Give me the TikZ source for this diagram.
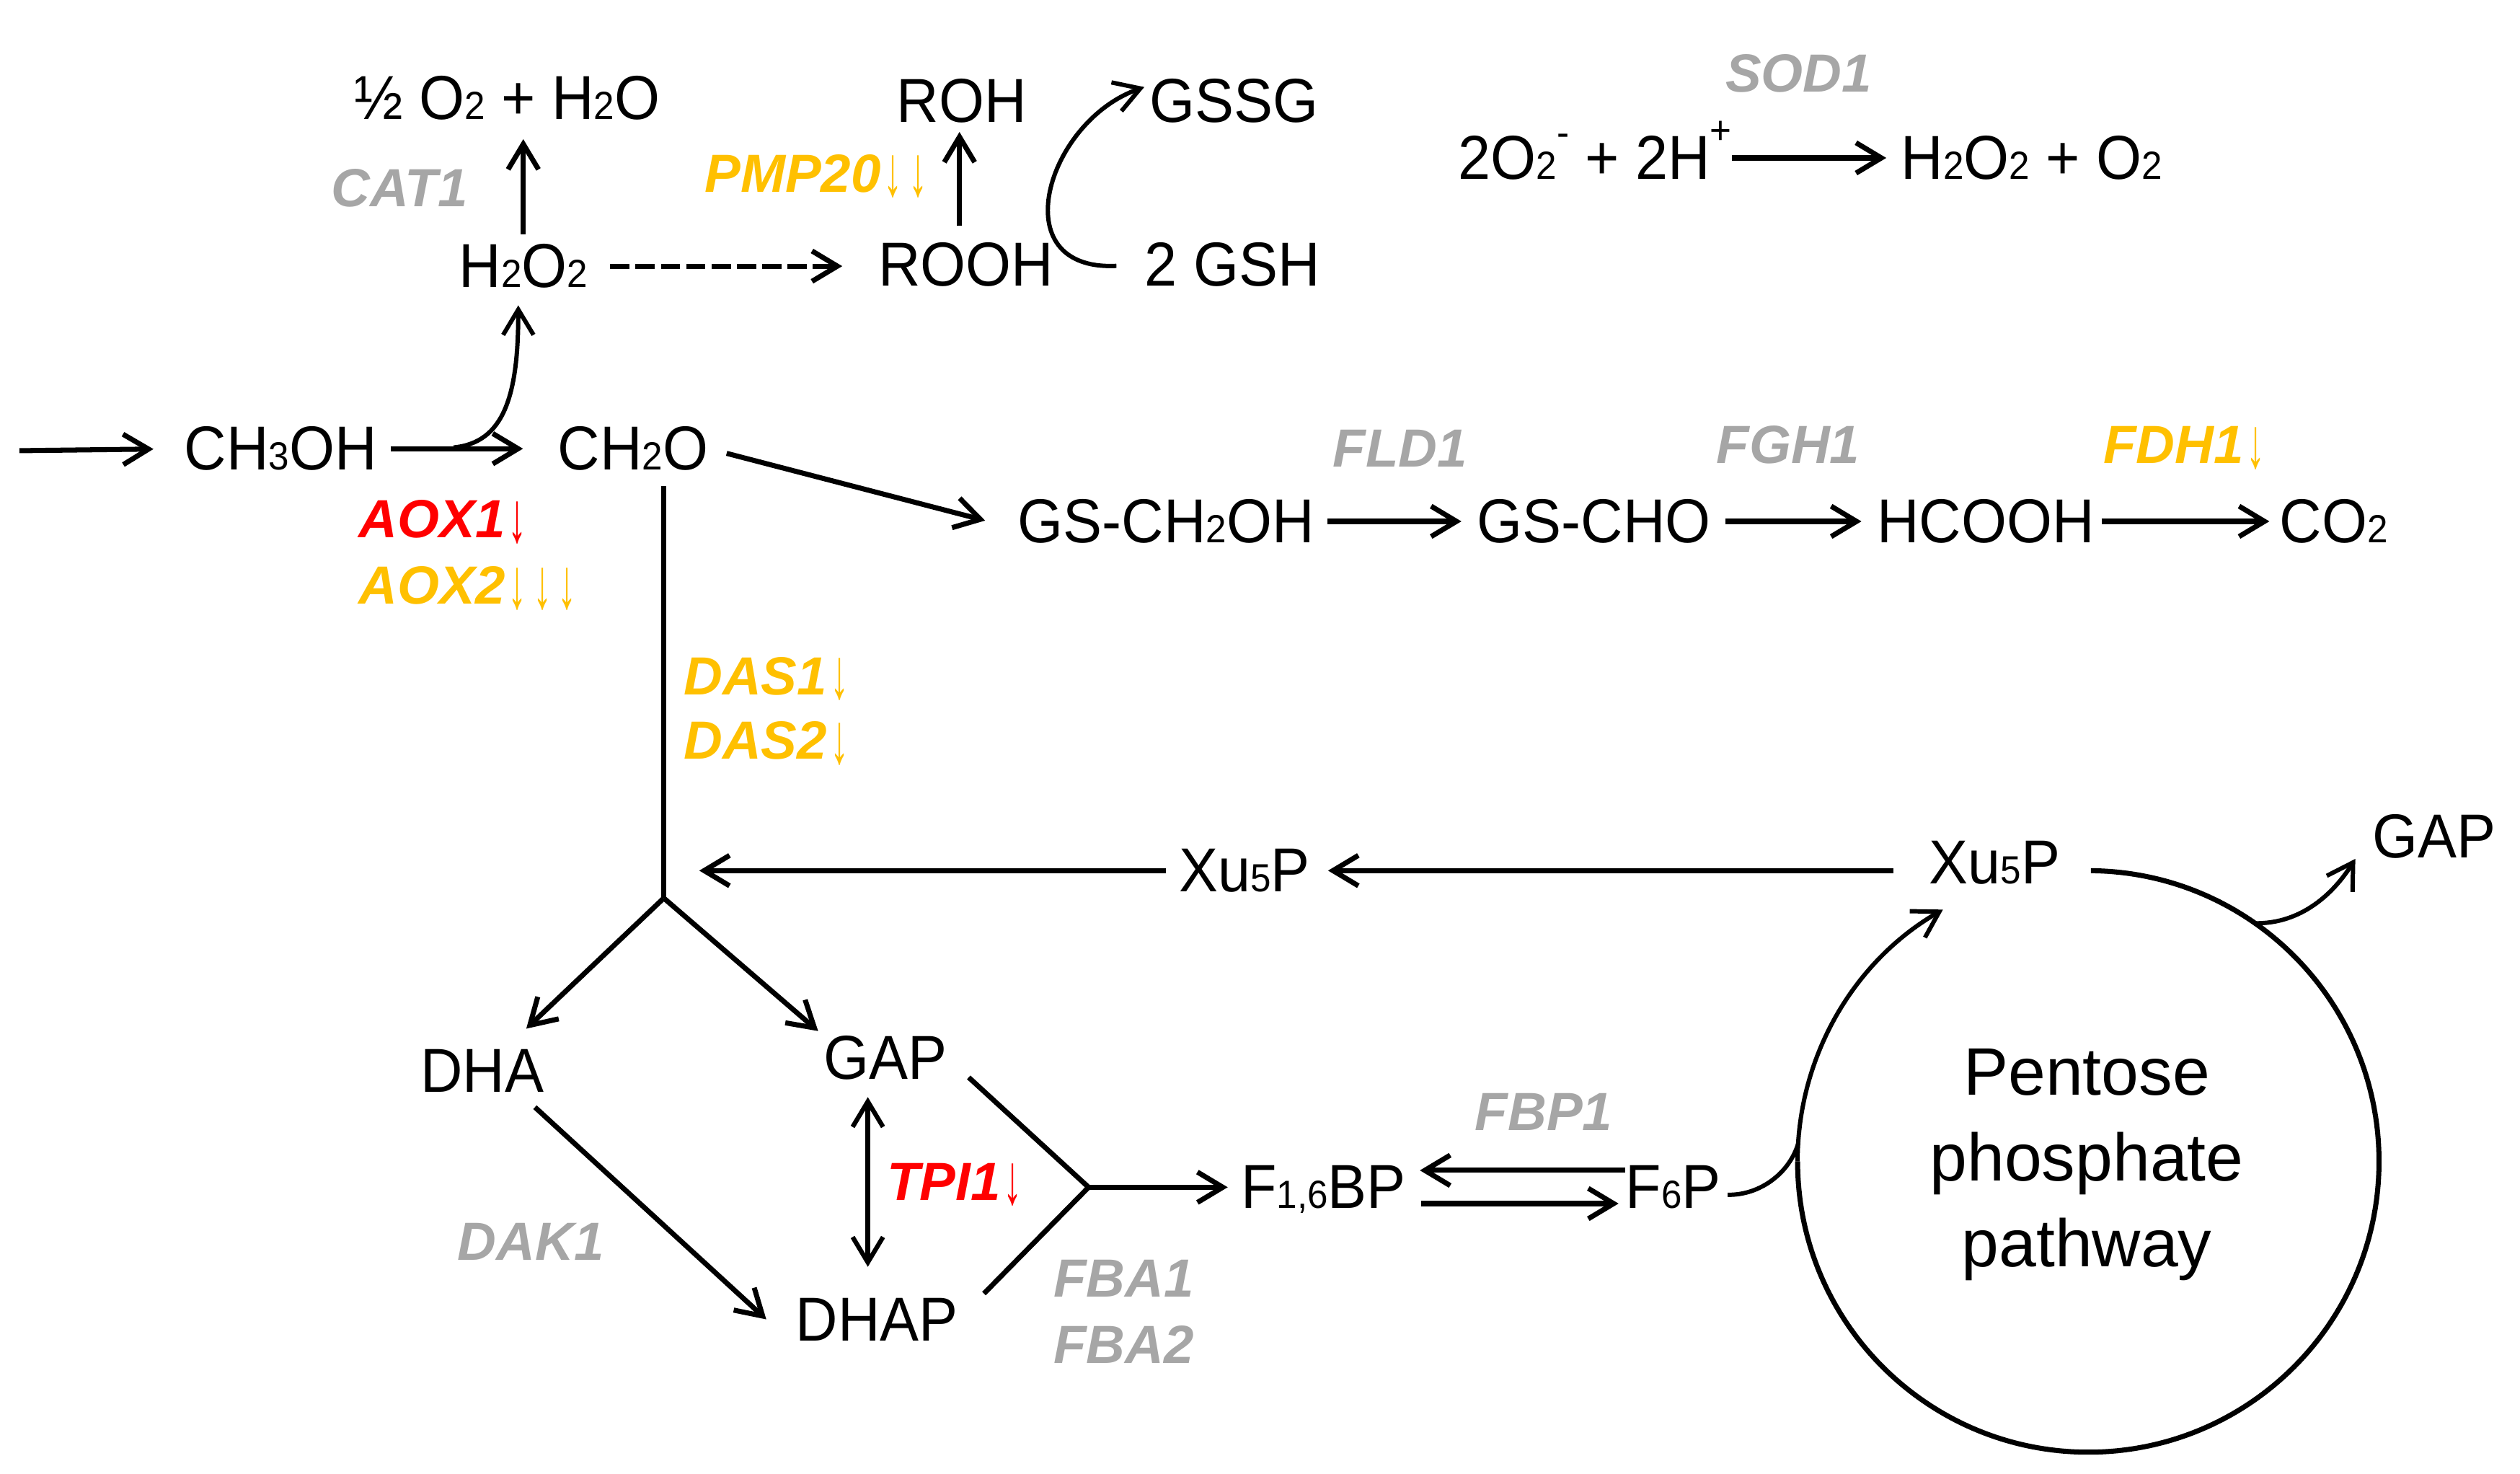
\documentclass[tikz,border=0pt]{standalone}
\usepackage{fontspec}
\usepackage{graphicx}
\setmainfont{Liberation Sans}
\newfontfamily\molfont{Liberation Sans}[FakeStretch=0.94]
\usetikzlibrary{arrows.meta,calc}
\definecolor{gen}{HTML}{A6A6A6}
\definecolor{gold}{HTML}{FFC000}
\definecolor{rd}{HTML}{FF0000}
\newcommand\sbs[1]{{\fontsize{15.5}{15.5}\selectfont #1}}
\newcommand\sps[2]{\raisebox{#1}{\fontsize{15.5}{15.5}\selectfont #2}}
\newcommand\dn{\makebox[0.46em]{\raisebox{-1.5pt}[\height][0pt]{\scalebox{0.7}[1.33]{\normalfont ↓}}}}
\begin{document}
\begin{tikzpicture}[x=0.0224cm,y=0.0224cm,
  >={Straight Barb[length=10pt,width=12pt]},
  mol/.style={inner sep=0pt, anchor=base, font=\molfont\fontsize{24.5}{29}\selectfont},
  gene/.style={inner sep=0pt, anchor=base west, font=\fontsize{21.2}{25}\selectfont\bfseries\itshape},
  ln/.style={line width=2pt},
  arr/.style={line width=2pt, ->},
  arrthin/.style={line width=1.7pt, ->},
  dblarr/.style={line width=1.8pt, <->},
  dasharr/.style={line width=2pt, ->, dash pattern=on 7.6pt off 2.4pt}]
\useasboundingbox (0,0) rectangle (1560.3,-912.5);

% molecules
\node[mol] (half) at (314,-74) {½ O\sbs{2} + H\sbs{2}O};
\node[mol] (h2o2) at (324,-178) {H\sbs{2}O\sbs{2}};
\node[mol] (roh) at (595.5,-75.5) {ROH};
\node[mol] (rooh) at (598,-177) {ROOH};
\node[mol] (gssg) at (764,-75.5) {GSSG};
\node[mol] (gsh) at (763,-177) {2 GSH};
\node[mol] (sodL) at (987.6,-111) {2O\sbs{2}\sps{13pt}{-} + 2H\sps{14pt}{+}};
\node[mol] (sodR) at (1258,-111) {H\sbs{2}O\sbs{2} + O\sbs{2}};
\node[mol] (ch3oh) at (173.7,-291) {CH\sbs{3}OH};
\node[mol] (ch2o) at (392,-291) {CH\sbs{2}O};
\node[mol] (gsch2oh) at (722,-336) {GS-CH\sbs{2}OH};
\node[mol] (gscho) at (987,-336) {GS-CHO};
\node[mol] (hcooh) at (1229.5,-336) {HCOOH};
\node[mol] (co2) at (1445,-336) {CO\sbs{2}};
\node[mol] (xuL) at (770.5,-552) {Xu\sbs{5}P};
\node[mol] (xuR) at (1235,-547) {Xu\sbs{5}P};
\node[mol] (gapR) at (1507,-531) {GAP};
\node[mol] (dha) at (298.5,-676) {DHA};
\node[mol] (gap) at (548,-668) {GAP};
\node[mol] (dhap) at (543,-830) {DHAP};
\node[mol] (f16bp) at (819.5,-748) {F\sbs{1,6}BP};
\node[mol] (f6p) at (1036,-748) {F\sbs{6}P};
\node[inner sep=0pt, align=center, font=\fontsize{26.5}{33.8}\selectfont] (ppp) at (1292,-721) {Pentose\\phosphate\\pathway};

% enzymes
\node[gene,text=gen] (cat1) at (205,-128) {CAT1};
\node[gene,text=gold] (pmp20) at (436,-119) {PMP20\dn\dn};
\node[gene,text=gen] (sod1) at (1068,-57) {SOD1};
\node[gene,text=rd] (aox1) at (222,-333) {AOX1\dn};
\node[gene,text=gold] (aox2) at (222,-374) {AOX2\dn\dn\dn};
\node[gene,text=gen] (fld1) at (825,-289) {FLD1};
\node[gene,text=gen] (fgh1) at (1062.5,-287) {FGH1};
\node[gene,text=gold] (fdh1) at (1302,-287) {FDH1\dn};
\node[gene,text=gold] (das1) at (423,-430) {DAS1\dn};
\node[gene,text=gold] (das2) at (423,-470) {DAS2\dn};
\node[gene,text=rd] (tpi1) at (549,-743) {TPI1\dn};
\node[gene,text=gen] (dak1) at (283,-780) {DAK1};
\node[gene,text=gen] (fba1) at (652,-803) {FBA1};
\node[gene,text=gen] (fba2) at (652,-844) {FBA2};
\node[gene,text=gen] (fbp1) at (913,-700) {FBP1};

% helper coordinates
\coordinate (cin) at (12,-279);
\coordinate (c1) at (281,-277);
\coordinate (fork) at (411,-556);
\coordinate (join) at (674,-735);
\coordinate (cc) at (1293,-719);
\coordinate (c55) at ($(cc)+(55:4.032cm)$);
\coordinate (c89) at ($(cc)+(89.5:4.032cm)$);
\coordinate (c180) at ($(cc)+(180:4.032cm)$);
\coordinate (c176) at ($(cc)+(176.5:4.032cm)$);

% top part
\draw[arr, shorten >=12pt] (cin) -- (ch3oh.west);
\draw[arr, shorten <=5.3pt, shorten >=13.6pt] (ch3oh.west -| ch3oh.east) -- (ch2o.west);
\draw[arrthin, shorten >=6.6pt] (c1) .. controls (312,-274) and (321,-245) .. ([xshift=-2pt]h2o2.south);
\draw[arr, shorten <=3.8pt, shorten >=7.3pt] (h2o2.north) -- (h2o2.north |- half.south);
\draw[dasharr, shorten <=8.7pt, shorten >=14pt] (h2o2.east) -- (h2o2.east -| rooh.west);
\draw[arr, shorten <=6.4pt, shorten >=3.5pt] ([xshift=-2.5pt]rooh.north) -- ([xshift=-2.5pt]rooh.north |- roh.south);
\draw[arrthin, shorten <=11pt, shorten >=2pt] (gsh.west) .. controls (620,-168) and (648,-75) .. ([yshift=6pt]gssg.west);
\draw[arr, shorten >=5.7pt] (sodR.west -| sodL.east) -- (sodR.west);

% formaldehyde oxidation
\draw[arr, shorten <=7.3pt, shorten >=13.2pt] (ch2o.east) -- ([yshift=-3pt]gsch2oh.west);
\draw[arr, shorten <=5.1pt, shorten >=6.1pt] (gsch2oh.east) -- (gscho.west);
\draw[arr, shorten <=5.7pt, shorten >=6pt] (gscho.east) -- (hcooh.west);
\draw[arr, shorten <=2.6pt, shorten >=3.9pt] (hcooh.east) -- (co2.west);

% assimilation
\draw[ln, shorten <=6pt] (ch2o.south -| fork) -- (fork);
\draw[arr, shorten <=5pt, shorten >=14pt] (xuL.west) -- (xuL.west -| fork);
\draw[arr, shorten <=13.8pt, shorten >=7pt] (xuL.east -| xuR.west) -- (xuL.east);
\draw[arr, shorten >=11.5pt] (fork) -- (dha);
\draw[arr, shorten >=2.5pt] (fork) -- (gap.north west);
\draw[arr, shorten <=8.6pt] ([xshift=-10pt]dha.south east) -- ([xshift=-11.5pt]dhap.west);
\draw[dblarr, shorten <=6.7pt, shorten >=12.1pt] ([xshift=-6.8pt]gap.south) -- ([xshift=-6.8pt]gap.south |- dhap.north);
\draw[ln, shorten <=11.5pt] (gap.east) -- (join);
\draw[ln, shorten <=14.3pt] (dhap.east) -- (join);
\draw[arr, shorten >=5.1pt] (join) -- (join -| f16bp.west);
\draw[arr, shorten >=5.3pt] ([yshift=6.6pt]f6p.west) -- ([yshift=6.6pt]f6p.west -| f16bp.east);
\draw[arr, shorten <=5.9pt, shorten >=2.6pt] ([yshift=-6.5pt]f6p.west -| f16bp.east) -- ([yshift=-6.5pt]f6p.west);

% pentose phosphate cycle
\draw[ln] (c89) arc[start angle=89.5, end angle=-180, radius=4.032cm];
\draw[arrthin] (c180) arc[start angle=180, end angle=120, radius=4.032cm];
\draw[line width=1.7pt, shorten <=2.5pt] ([yshift=-3pt]f6p.east) .. controls (1090,-740) and (1108,-726) .. (c176);
\draw[arrthin] (c55) .. controls (1425,-572) and (1445,-553) .. ([xshift=-6.5pt]gapR.south west);
\end{tikzpicture}
\end{document}
